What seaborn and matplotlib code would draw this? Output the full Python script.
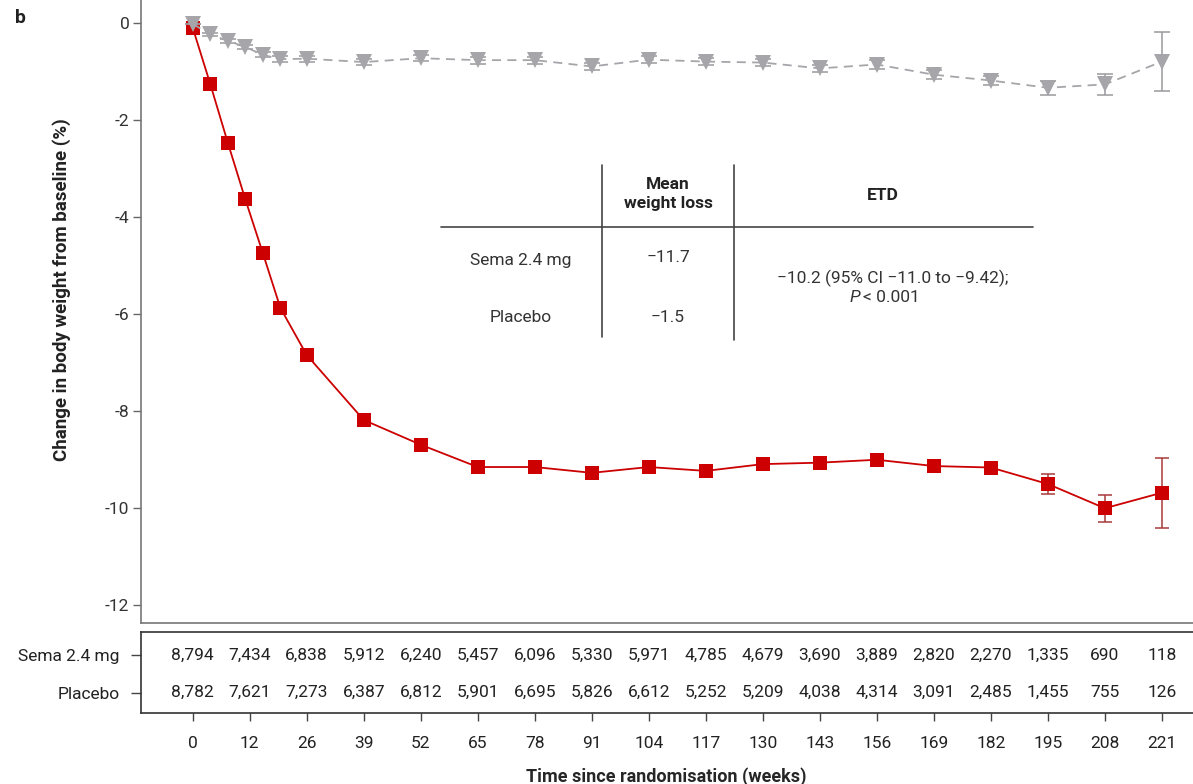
import matplotlib
matplotlib.use('Agg')
import matplotlib.pyplot as plt
import seaborn as sns

# datos
weeks = [0, 4, 8, 12, 16, 20, 26, 39, 52, 65, 78, 91, 104, 117, 130, 143, 156, 169, 182, 195, 208, 221]
sema = [-0.10, -1.26, -2.47, -3.64, -4.75, -5.88, -6.85, -8.19, -8.70, -9.16, -9.16, -9.28, -9.16,
        -9.24, -9.10, -9.07, -9.01, -9.14, -9.17, -9.51, -10.01, -9.69]
sema_se = [0.0, 0.02, 0.03, 0.04, 0.04, 0.05, 0.05, 0.06, 0.06, 0.07, 0.07, 0.07, 0.07,
           0.08, 0.08, 0.09, 0.09, 0.10, 0.12, 0.21, 0.28, 0.72]
placebo = [-0.02, -0.24, -0.37, -0.50, -0.66, -0.75, -0.74, -0.81, -0.73, -0.77, -0.77, -0.90, -0.76,
           -0.80, -0.82, -0.94, -0.86, -1.07, -1.19, -1.34, -1.27, -0.80]
placebo_se = [0.0, 0.03, 0.04, 0.05, 0.05, 0.06, 0.06, 0.06, 0.06, 0.07, 0.07, 0.07, 0.07,
              0.08, 0.08, 0.08, 0.09, 0.09, 0.10, 0.15, 0.22, 0.60]

tick_weeks = [0, 13, 26, 39, 52, 65, 78, 91, 104, 117, 130, 143, 156, 169, 182, 195, 208, 221]
tick_labels = ['0', '12', '26', '39', '52', '65', '78', '91', '104', '117', '130', '143', '156',
               '169', '182', '195', '208', '221']
sema_n = [8794, 7434, 6838, 5912, 6240, 5457, 6096, 5330, 5971, 4785, 4679, 3690, 3889, 2820, 2270, 1335, 690, 118]
placebo_n = [8782, 7621, 7273, 6387, 6812, 5901, 6695, 5826, 6612, 5252, 5209, 4038, 4314, 3091, 2485, 1455, 755, 126]

y_ticks = [0, -2, -4, -6, -8, -10, -12]
groups = ['Sema 2.4 mg', 'Placebo']

RED = '#cc0000'
GREY = '#a6a6aa'
W, H = 1193, 784

sns.set_style('white')
plt.rcParams['font.family'] = ['Roboto', 'DejaVu Sans']
plt.rcParams['text.color'] = '#222222'


def fx(px):
    return px / W


def fy(py):
    return 1 - py / H


fig = plt.figure(figsize=(W / 100, H / 100), dpi=100)
ax = fig.add_axes([fx(140.5), fy(622.7), 1 - fx(140.5), 622.7 / H])
ax2 = fig.add_axes([fx(140.5), fy(712.7), 1 - fx(140.5), 81 / H])

# curvas
ax.errorbar(weeks, sema, yerr=sema_se, fmt='none', ecolor='#a83a3a', elinewidth=1.1, capsize=4.8, capthick=1.1, zorder=2)
sns.lineplot(x=weeks, y=sema, ax=ax, color=RED, marker='s', markersize=10.5, markeredgewidth=0, linewidth=1.3, zorder=3)
ax.errorbar(weeks, placebo, yerr=placebo_se, fmt='none', ecolor='#9a9a9e', elinewidth=1.1, capsize=5.5, capthick=1.1, zorder=4)
sns.lineplot(x=weeks, y=placebo, ax=ax, color=GREY, marker='v', markersize=12, markeredgewidth=0, linewidth=1.3,
             linestyle=(0, (5, 3.5)), zorder=5)

ax.set_xlim(-11.9, 228.1)
ax.set_ylim(-12.37, 0.47)
ax.set_yticks(y_ticks)
ax.set_yticklabels([str(v) for v in y_ticks], fontsize=12.5)
ax.set_xticks([])
ax.tick_params(axis='y', left=True, length=6, width=1, color='#666666', pad=2, labelcolor='#333333')
for s in ['top', 'right']:
    ax.spines[s].set_visible(False)
for s in ['left', 'bottom']:
    ax.spines[s].set_color('#777777')
    ax.spines[s].set_linewidth(1.2)
ax.set_xlabel('')
ax.set_ylabel('')

# tabla de numeros en riesgo
ax2.set_xlim(-11.9, 228.1)
ax2.set_ylim(-0.53, 1.62)
for i, wk in enumerate(tick_weeks):
    ax2.text(wk, 1, f'{sema_n[i]:,}', ha='center', va='center', fontsize=12.5, color='#222222')
    ax2.text(wk, 0, f'{placebo_n[i]:,}', ha='center', va='center', fontsize=12.5, color='#222222')
ax2.set_yticks([1, 0])
ax2.set_yticklabels(groups, fontsize=12.5)
ax2.set_xticks(tick_weeks)
ax2.set_xticklabels(tick_labels, fontsize=12.5)
ax2.tick_params(axis='y', left=True, length=7, width=1, color='#444444', pad=8, labelcolor='#222222')
ax2.tick_params(axis='x', bottom=True, length=5.5, width=1, color='#444444', pad=11, labelcolor='#222222')
ax2.spines['right'].set_visible(False)
for s in ['top', 'left', 'bottom']:
    ax2.spines[s].set_color('#333333')
    ax2.spines[s].set_linewidth(1.2)
ax2.set_xlabel('Time since randomisation (weeks)', fontsize=13, fontweight='bold', labelpad=12)

fig.text(fx(62), fy(290), 'Change in body weight from baseline (%)', rotation=90, ha='center', va='center',
         fontsize=13.5, fontweight='bold')
fig.text(fx(15), fy(18), 'b', ha='left', va='center', fontsize=14, fontweight='bold')

# cuadro con resultados
line_kw = dict(color='#444444', linewidth=1.2)
fig.add_artist(plt.Line2D([fx(441), fx(1033)], [fy(227), fy(227)], **line_kw))
fig.add_artist(plt.Line2D([fx(602), fx(602)], [fy(165), fy(337)], **line_kw))
fig.add_artist(plt.Line2D([fx(734), fx(734)], [fy(165), fy(340)], **line_kw))
fig.text(fx(668), fy(194), 'Mean\nweight loss', ha='center', va='center', fontsize=12.5, fontweight='bold',
         linespacing=1.35)
fig.text(fx(883), fy(196), 'ETD', ha='center', va='center', fontsize=12.5, fontweight='bold')
fig.text(fx(521), fy(261), 'Sema 2.4 mg', ha='center', va='center', fontsize=12.5, color='#333333')
fig.text(fx(521), fy(318), 'Placebo', ha='center', va='center', fontsize=12.5, color='#333333')
fig.text(fx(668), fy(258), '\u221211.7', ha='center', va='center', fontsize=12.5, color='#333333')
fig.text(fx(668), fy(318), '\u22121.5', ha='center', va='center', fontsize=12.5, color='#333333')
fig.text(fx(893), fy(278), '\u221210.2 (95% CI \u221211.0 to \u22129.42);', ha='center', va='center',
         fontsize=12.5, color='#333333')
fig.text(fx(849), fy(298), 'P', ha='left', va='center', fontsize=12.5, style='italic', color='#333333')
fig.text(fx(863), fy(298), '< 0.001', ha='left', va='center', fontsize=12.5, color='#333333')

plt.savefig('out.png', dpi=100)
